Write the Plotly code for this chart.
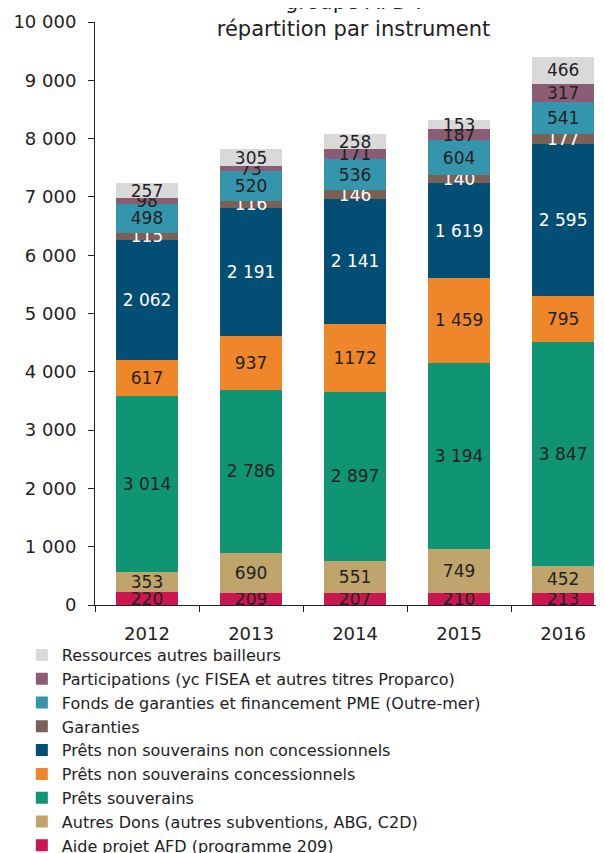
import plotly.graph_objects as go

years = ["2012", "2013", "2014", "2015", "2016"]

series_names = [
    "Aide projet AFD (programme 209)",
    "Autres Dons (autres subventions, ABG, C2D)",
    "Prêts souverains",
    "Prêts non souverains concessionnels",
    "Prêts non souverains non concessionnels",
    "Garanties",
    "Fonds de garanties et financement PME (Outre-mer)",
    "Participations (yc FISEA et autres titres Proparco)",
    "Ressources autres bailleurs",
]

aide_projet = [220, 209, 207, 210, 213]
autres_dons = [353, 690, 551, 749, 452]
prets_souverains = [3014, 2786, 2897, 3194, 3847]
prets_ns_conc = [617, 937, 1172, 1459, 795]
prets_ns_non_conc = [2062, 2191, 2141, 1619, 2595]
garanties = [115, 116, 146, 140, 177]
fonds_garanties = [498, 520, 536, 604, 541]
participations = [98, 73, 171, 187, 317]
ressources_autres = [257, 305, 258, 153, 466]

series_values = [aide_projet, autres_dons, prets_souverains, prets_ns_conc,
                 prets_ns_non_conc, garanties, fonds_garanties, participations,
                 ressources_autres]

colors = ["#CC1650", "#BFA56C", "#0F9474", "#F0862A", "#034E75",
          "#7D6055", "#3595AD", "#8C5C74", "#D9D9D9"]
text_colors = ["#222222", "#222222", "#222222", "#222222", "#FFFFFF",
               "#FFFFFF", "#222222", "#222222", "#222222"]

y_tick_vals = [0, 1000, 2000, 3000, 4000, 5000, 6000, 7000, 8000, 9000, 10000]
y_tick_text = ["0", "1 000", "2 000", "3 000", "4 000", "5 000", "6 000",
               "7 000", "8 000", "9 000", "10 000"]

# label exactly as printed in the source
label_overrides = {1172: "1172"}


def fmt(v):
    if v in label_overrides:
        return label_overrides[v]
    return f"{v:,}".replace(",", " ")


FONT = "DejaVu Sans"

fig = go.Figure()
for name, vals, col, tcol in zip(series_names, series_values, colors, text_colors):
    fig.add_trace(go.Bar(
        x=years, y=vals, name=name,
        marker=dict(color=col, line=dict(width=0)),
        text=[fmt(v) for v in vals],
        textposition="inside",
        insidetextanchor="middle",
        textangle=0,
        textfont=dict(family=FONT, size=17, color=tcol),
        hoverinfo="x+y+name",
    ))

fig.update_layout(
    barmode="stack",
    bargap=0.4,
    width=604, height=853,
    margin=dict(l=87, r=0, t=14, b=256, autoexpand=False),
    paper_bgcolor="white", plot_bgcolor="white",
    font=dict(family=FONT, size=17, color="#222222"),
    uniformtext=dict(mode="show", minsize=17),
    title=dict(
        text="groupe AFD :<br>répartition par instrument",
        x=0.5, xref="paper", xanchor="center",
        y=0.999, yref="container", yanchor="middle",
        font=dict(family=FONT, size=21, color="#222222"),
    ),
    showlegend=True,
    legend=dict(
        traceorder="reversed",
        orientation="v",
        x=-0.1415, xanchor="left",
        y=-0.0566, yanchor="top",
        font=dict(family=FONT, size=16, color="#222222"),
        itemwidth=30,
        tracegroupgap=0,
        bgcolor="rgba(0,0,0,0)",
    ),
    xaxis=dict(
        type="category",
        range=[-0.5, 4.47],
        showline=True, linecolor="#222222", linewidth=1,
        ticks="outside", ticklen=6, tickcolor="#222222",
        tickson="boundaries",
        ticklabelstandoff=12,
        showgrid=False,
        tickfont=dict(family=FONT, size=18, color="#222222"),
    ),
    yaxis=dict(
        range=[0, 10000],
        tickvals=y_tick_vals, ticktext=y_tick_text,
        showline=True, linecolor="#222222", linewidth=1,
        ticks="outside", ticklen=6, tickcolor="#222222",
        ticklabelstandoff=8,
        showgrid=False, zeroline=False,
        tickfont=dict(family=FONT, size=18, color="#222222"),
    ),
)

fig.write_html("out.html")
